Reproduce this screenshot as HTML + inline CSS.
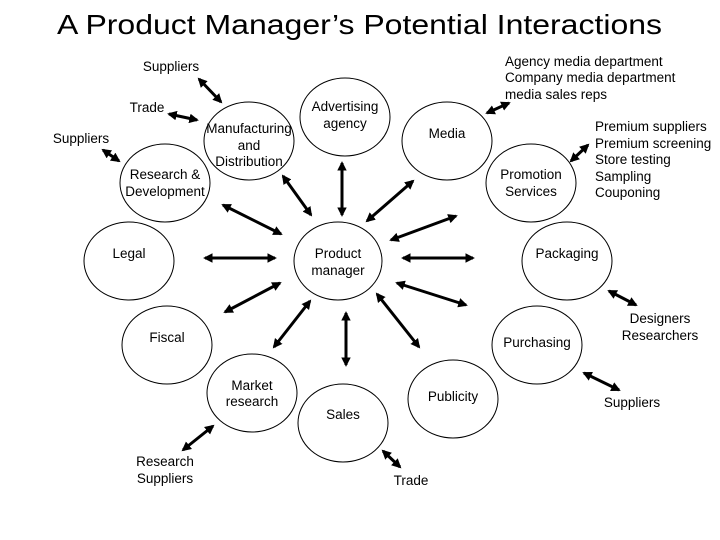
<!DOCTYPE html>
<html><head><meta charset="utf-8"><style>
html,body{margin:0;padding:0;background:#fff;}
svg{display:block;}
text{font-family:"Liberation Sans",sans-serif;fill:#000;}
</style></head><body>
<svg width="720" height="540" viewBox="0 0 720 540" xmlns="http://www.w3.org/2000/svg">
<defs>
<marker id="a" viewBox="0 0 10 10" refX="8" refY="5" markerWidth="3.2" markerHeight="3.2" orient="auto-start-reverse">
<path d="M0,0 L10,5 L0,10 z" fill="#000"/>
</marker>
</defs>
<text x="57" y="34" font-size="28" textLength="605" lengthAdjust="spacingAndGlyphs">A Product Manager’s Potential Interactions</text>
<g fill="none" stroke="#000" stroke-width="1">
<ellipse cx="249" cy="141" rx="45" ry="39"/>
<ellipse cx="345" cy="117" rx="45" ry="39"/>
<ellipse cx="165" cy="183" rx="45" ry="39"/>
<ellipse cx="129" cy="261" rx="45" ry="39"/>
<ellipse cx="338" cy="261" rx="44" ry="39"/>
<ellipse cx="447" cy="141" rx="45" ry="39"/>
<ellipse cx="531" cy="183" rx="45" ry="39"/>
<ellipse cx="567" cy="261" rx="45" ry="39"/>
<ellipse cx="167" cy="345" rx="45" ry="39"/>
<ellipse cx="252" cy="393" rx="45" ry="39"/>
<ellipse cx="343" cy="423" rx="45" ry="39"/>
<ellipse cx="453" cy="399" rx="45" ry="39"/>
<ellipse cx="537" cy="345" rx="45" ry="39"/>
</g>
<g stroke="#000" stroke-width="3" marker-start="url(#a)" marker-end="url(#a)">
<line x1="199" y1="79" x2="221" y2="102"/>
<line x1="169" y1="114" x2="197" y2="120"/>
<line x1="103" y1="150" x2="119" y2="161"/>
<line x1="223" y1="205" x2="281" y2="234"/>
<line x1="283" y1="176" x2="311" y2="215"/>
<line x1="342" y1="163" x2="342" y2="215"/>
<line x1="205" y1="258" x2="275" y2="258"/>
<line x1="280" y1="283" x2="225" y2="312"/>
<line x1="487" y1="113" x2="509" y2="103"/>
<line x1="571" y1="161" x2="588" y2="145"/>
<line x1="413" y1="181" x2="367" y2="221"/>
<line x1="456" y1="216" x2="391" y2="240"/>
<line x1="403" y1="258" x2="473" y2="258"/>
<line x1="397" y1="283" x2="466" y2="305"/>
<line x1="609" y1="291" x2="636" y2="305"/>
<line x1="310" y1="301" x2="274" y2="347"/>
<line x1="346" y1="313" x2="346" y2="365"/>
<line x1="377" y1="294" x2="419" y2="347"/>
<line x1="213" y1="426" x2="183" y2="450"/>
<line x1="383" y1="451" x2="400" y2="467"/>
<line x1="584" y1="373" x2="619" y2="390"/>
</g>
<g font-size="13.5" text-anchor="middle">
<text x="249" y="133">Manufacturing</text><text x="249" y="150">and</text><text x="249" y="166">Distribution</text>
<text x="345" y="111">Advertising</text><text x="345" y="128">agency</text>
<text x="165" y="179">Research &amp;</text><text x="165" y="196">Development</text>
<text x="129" y="258">Legal</text>
<text x="338" y="258">Product</text><text x="338" y="275">manager</text>
<text x="447" y="138">Media</text>
<text x="531" y="179">Promotion</text><text x="531" y="196">Services</text>
<text x="567" y="258">Packaging</text>
<text x="167" y="342">Fiscal</text>
<text x="252" y="390">Market</text><text x="252" y="406">research</text>
<text x="343" y="419">Sales</text>
<text x="453" y="401">Publicity</text>
<text x="537" y="347">Purchasing</text>
<text x="660" y="323">Designers</text><text x="660" y="340">Researchers</text>
<text x="165" y="466">Research</text><text x="165" y="483">Suppliers</text>
<text x="411" y="485">Trade</text>
<text x="632" y="407">Suppliers</text>
<text x="171" y="71">Suppliers</text>
<text x="147" y="112">Trade</text>
<text x="81" y="143">Suppliers</text>
</g>
<g font-size="13.5">
<text x="505" y="66">Agency media department</text>
<text x="505" y="82">Company media department</text>
<text x="505" y="99">media sales reps</text>
<text x="595" y="131">Premium suppliers</text>
<text x="595" y="148">Premium screening</text>
<text x="595" y="164">Store testing</text>
<text x="595" y="181">Sampling</text>
<text x="595" y="197">Couponing</text>
</g>
</svg>
</body></html>
